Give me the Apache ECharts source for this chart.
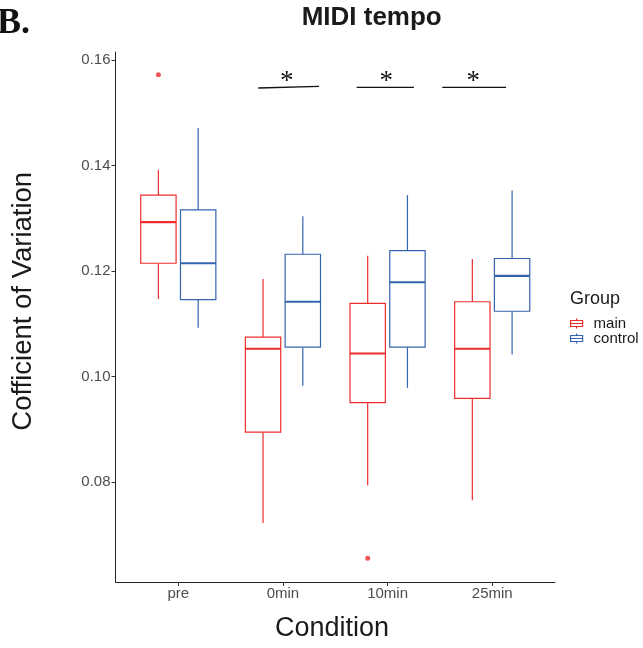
<!DOCTYPE html>
<html>
<head>
<meta charset="utf-8">
<script src="https://cdn.jsdelivr.net/npm/echarts@6/dist/echarts.min.js"></script>
<style>html,body{margin:0;padding:0;background:#fff}#c{width:643px;height:648px}</style>
</head>
<body>
<div id="c"></div>
<script>
// ---- data ----
const categories = ['pre', '0min', '10min', '25min'];
const yTicks = [0.08, 0.10, 0.12, 0.14, 0.16];

const mainLow    = [0.1147, 0.0723, 0.0794, 0.0766];
const mainQ1     = [0.1215, 0.0895, 0.0951, 0.0959];
const mainMedian = [0.1293, 0.1053, 0.1044, 0.1053];
const mainQ3     = [0.1344, 0.1075, 0.1139, 0.1142];
const mainHigh   = [0.1392, 0.1185, 0.1229, 0.1223];

const controlLow    = [0.1093, 0.0983, 0.0979, 0.1042];
const controlQ1     = [0.1146, 0.1056, 0.1056, 0.1124];
const controlMedian = [0.1215, 0.1142, 0.1179, 0.1191];
const controlQ3     = [0.1316, 0.1232, 0.1239, 0.1224];
const controlHigh   = [0.1471, 0.1304, 0.1344, 0.1353];

const mainOutlierCat = [0, 2];
const mainOutlierVal = [0.1572, 0.0656];

const sigFrom   = [0.765, 1.705, 2.523];
const sigTo     = [1.345, 2.252, 3.132];
const sigFromY  = [0.1547, 0.1548, 0.1548];
const sigToY    = [0.1550, 0.1548, 0.1548];
const sigStarX  = [1.036, 1.988, 2.819];
const sigStarY  = [0.1559, 0.1559, 0.1559];
const sigLabel  = ['*', '*', '*'];

// ---- style ----
const RED = '#EE2D2D';
const BLUE = '#3564AE';
const FONT = '"Liberation Sans", Arial, Helvetica, sans-serif';

function boxData(lo, q1, med, q3, hi) {
  return categories.map((c, i) => [i, lo[i], q1[i], med[i], q3[i], hi[i]]);
}

function boxRenderer(offset, color) {
  return function (params, api) {
    const x = api.value(0) + offset;
    const half = api.size([0.169, 0])[0];
    const pLo = api.coord([x, api.value(1)]);
    const pQ1 = api.coord([x, api.value(2)]);
    const pMed = api.coord([x, api.value(3)]);
    const pQ3 = api.coord([x, api.value(4)]);
    const pHi = api.coord([x, api.value(5)]);
    const cx = pLo[0];
    const ls = { stroke: color, lineWidth: 1.2, fill: null };
    return {
      type: 'group',
      children: [
        { type: 'line', shape: { x1: cx, y1: pHi[1], x2: cx, y2: pQ3[1] }, style: ls },
        { type: 'line', shape: { x1: cx, y1: pQ1[1], x2: cx, y2: pLo[1] }, style: ls },
        { type: 'rect', shape: { x: cx - half, y: pQ3[1], width: half * 2, height: pQ1[1] - pQ3[1] },
          style: { stroke: color, lineWidth: 1.2, fill: '#fff' } },
        { type: 'line', shape: { x1: cx - half, y1: pMed[1], x2: cx + half, y2: pMed[1] },
          style: { stroke: color, lineWidth: 2.2 } }
      ]
    };
  };
}

const sigData = sigFrom.map((f, i) => [f, sigTo[i], sigFromY[i], sigToY[i], sigStarX[i], sigStarY[i], i]);

const iconPath = 'path://M6,0L6,2M0,2L12,2L12,8L0,8ZM0,5L12,5M6,8L6,10';

const chart = echarts.init(document.getElementById('c'), null, { renderer: 'canvas' });
chart.setOption({
  animation: false,
  backgroundColor: '#fff',
  grid: { left: 115.5, right: 88, top: 52, bottom: 66, containLabel: false },
  xAxis: {
    type: 'value', min: -0.6, max: 3.6,
    splitLine: { show: false },
    axisLine: { show: true, onZero: false, lineStyle: { color: '#222', width: 1 } },
    axisTick: { show: true, length: 4, lineStyle: { color: '#333' }, customValues: [0, 1, 2, 3] },
    axisLabel: { customValues: [0, 1, 2, 3], formatter: v => categories[Math.round(v)],
      color: '#4D4D4D', fontSize: 15, fontFamily: FONT, margin: 4 }
  },
  yAxis: {
    type: 'value', min: 0.061114, max: 0.161515,
    splitLine: { show: false },
    axisLine: { show: true, onZero: false, lineStyle: { color: '#222', width: 1 } },
    axisTick: { show: true, length: 4, lineStyle: { color: '#333' }, customValues: yTicks },
    axisLabel: { customValues: yTicks, formatter: v => v.toFixed(2),
      color: '#4D4D4D', fontSize: 15, fontFamily: FONT, margin: 5 }
  },
  legend: {
    orient: 'vertical', left: 570, top: 316, padding: 0,
    itemWidth: 12, itemHeight: 10, itemGap: 0,
    textStyle: { fontSize: 15, fontFamily: FONT, color: '#1a1a1a', lineHeight: 15, padding: [0, 0, 0, 6] },
    data: [
      { name: 'main', icon: iconPath, itemStyle: { color: '#fff', borderColor: RED, borderWidth: 1.2 } },
      { name: 'control', icon: iconPath, itemStyle: { color: '#fff', borderColor: BLUE, borderWidth: 1.2 } }
    ]
  },
  graphic: [
    { type: 'text', x: -3, y: 24, style: { text: 'B.', font: 'bold 36px "Liberation Serif", "Times New Roman", serif',
      fill: '#111', textAlign: 'left', textVerticalAlign: 'middle' } },
    { type: 'text', x: 371.7, y: 18.3, style: { text: 'MIDI tempo', font: 'bold 26px ' + FONT,
      fill: '#1a1a1a', textAlign: 'center', textVerticalAlign: 'middle' } },
    { type: 'text', x: 23.3, y: 301.3, rotation: Math.PI / 2, style: { text: 'Cofficient of Variation',
      font: '27.5px ' + FONT, fill: '#1a1a1a', textAlign: 'center', textVerticalAlign: 'middle' } },
    { type: 'text', x: 332, y: 629, style: { text: 'Condition', font: '27px ' + FONT,
      fill: '#1a1a1a', textAlign: 'center', textVerticalAlign: 'middle' } },
    { type: 'text', x: 570, y: 298.8, style: { text: 'Group', font: '18px ' + FONT,
      fill: '#1a1a1a', textAlign: 'left', textVerticalAlign: 'middle' } }
  ],
  series: [
    {
      name: 'main', type: 'custom', itemStyle: { color: RED },
      data: boxData(mainLow, mainQ1, mainMedian, mainQ3, mainHigh),
      encode: { x: 0, y: [1, 2, 3, 4, 5] },
      renderItem: boxRenderer(-0.19, RED), z: 2
    },
    {
      name: 'control', type: 'custom', itemStyle: { color: BLUE },
      data: boxData(controlLow, controlQ1, controlMedian, controlQ3, controlHigh),
      encode: { x: 0, y: [1, 2, 3, 4, 5] },
      renderItem: boxRenderer(0.19, BLUE), z: 2
    },
    {
      name: 'main outliers', type: 'scatter', symbol: 'circle', symbolSize: 5,
      itemStyle: { color: RED },
      data: mainOutlierCat.map((c, i) => [c - 0.19, mainOutlierVal[i]]), z: 3
    },
    {
      name: 'sig', type: 'custom',
      data: sigData,
      encode: { x: [0, 1, 4], y: [2, 3, 5] },
      renderItem: function (params, api) {
        const a = api.coord([api.value(0), api.value(2)]);
        const b = api.coord([api.value(1), api.value(3)]);
        const s = api.coord([api.value(4), api.value(5)]);
        return {
          type: 'group',
          children: [
            { type: 'line', shape: { x1: a[0], y1: a[1], x2: b[0], y2: b[1] },
              style: { stroke: '#111', lineWidth: 1.3 } },
            { type: 'text', x: s[0], y: s[1], style: { text: sigLabel[api.value(6)],
              font: '27px "Liberation Serif", "Times New Roman", serif', fill: '#111',
              textAlign: 'center', textVerticalAlign: 'middle' } }
          ]
        };
      }, z: 3
    }
  ]
});
</script>
</body>
</html>
